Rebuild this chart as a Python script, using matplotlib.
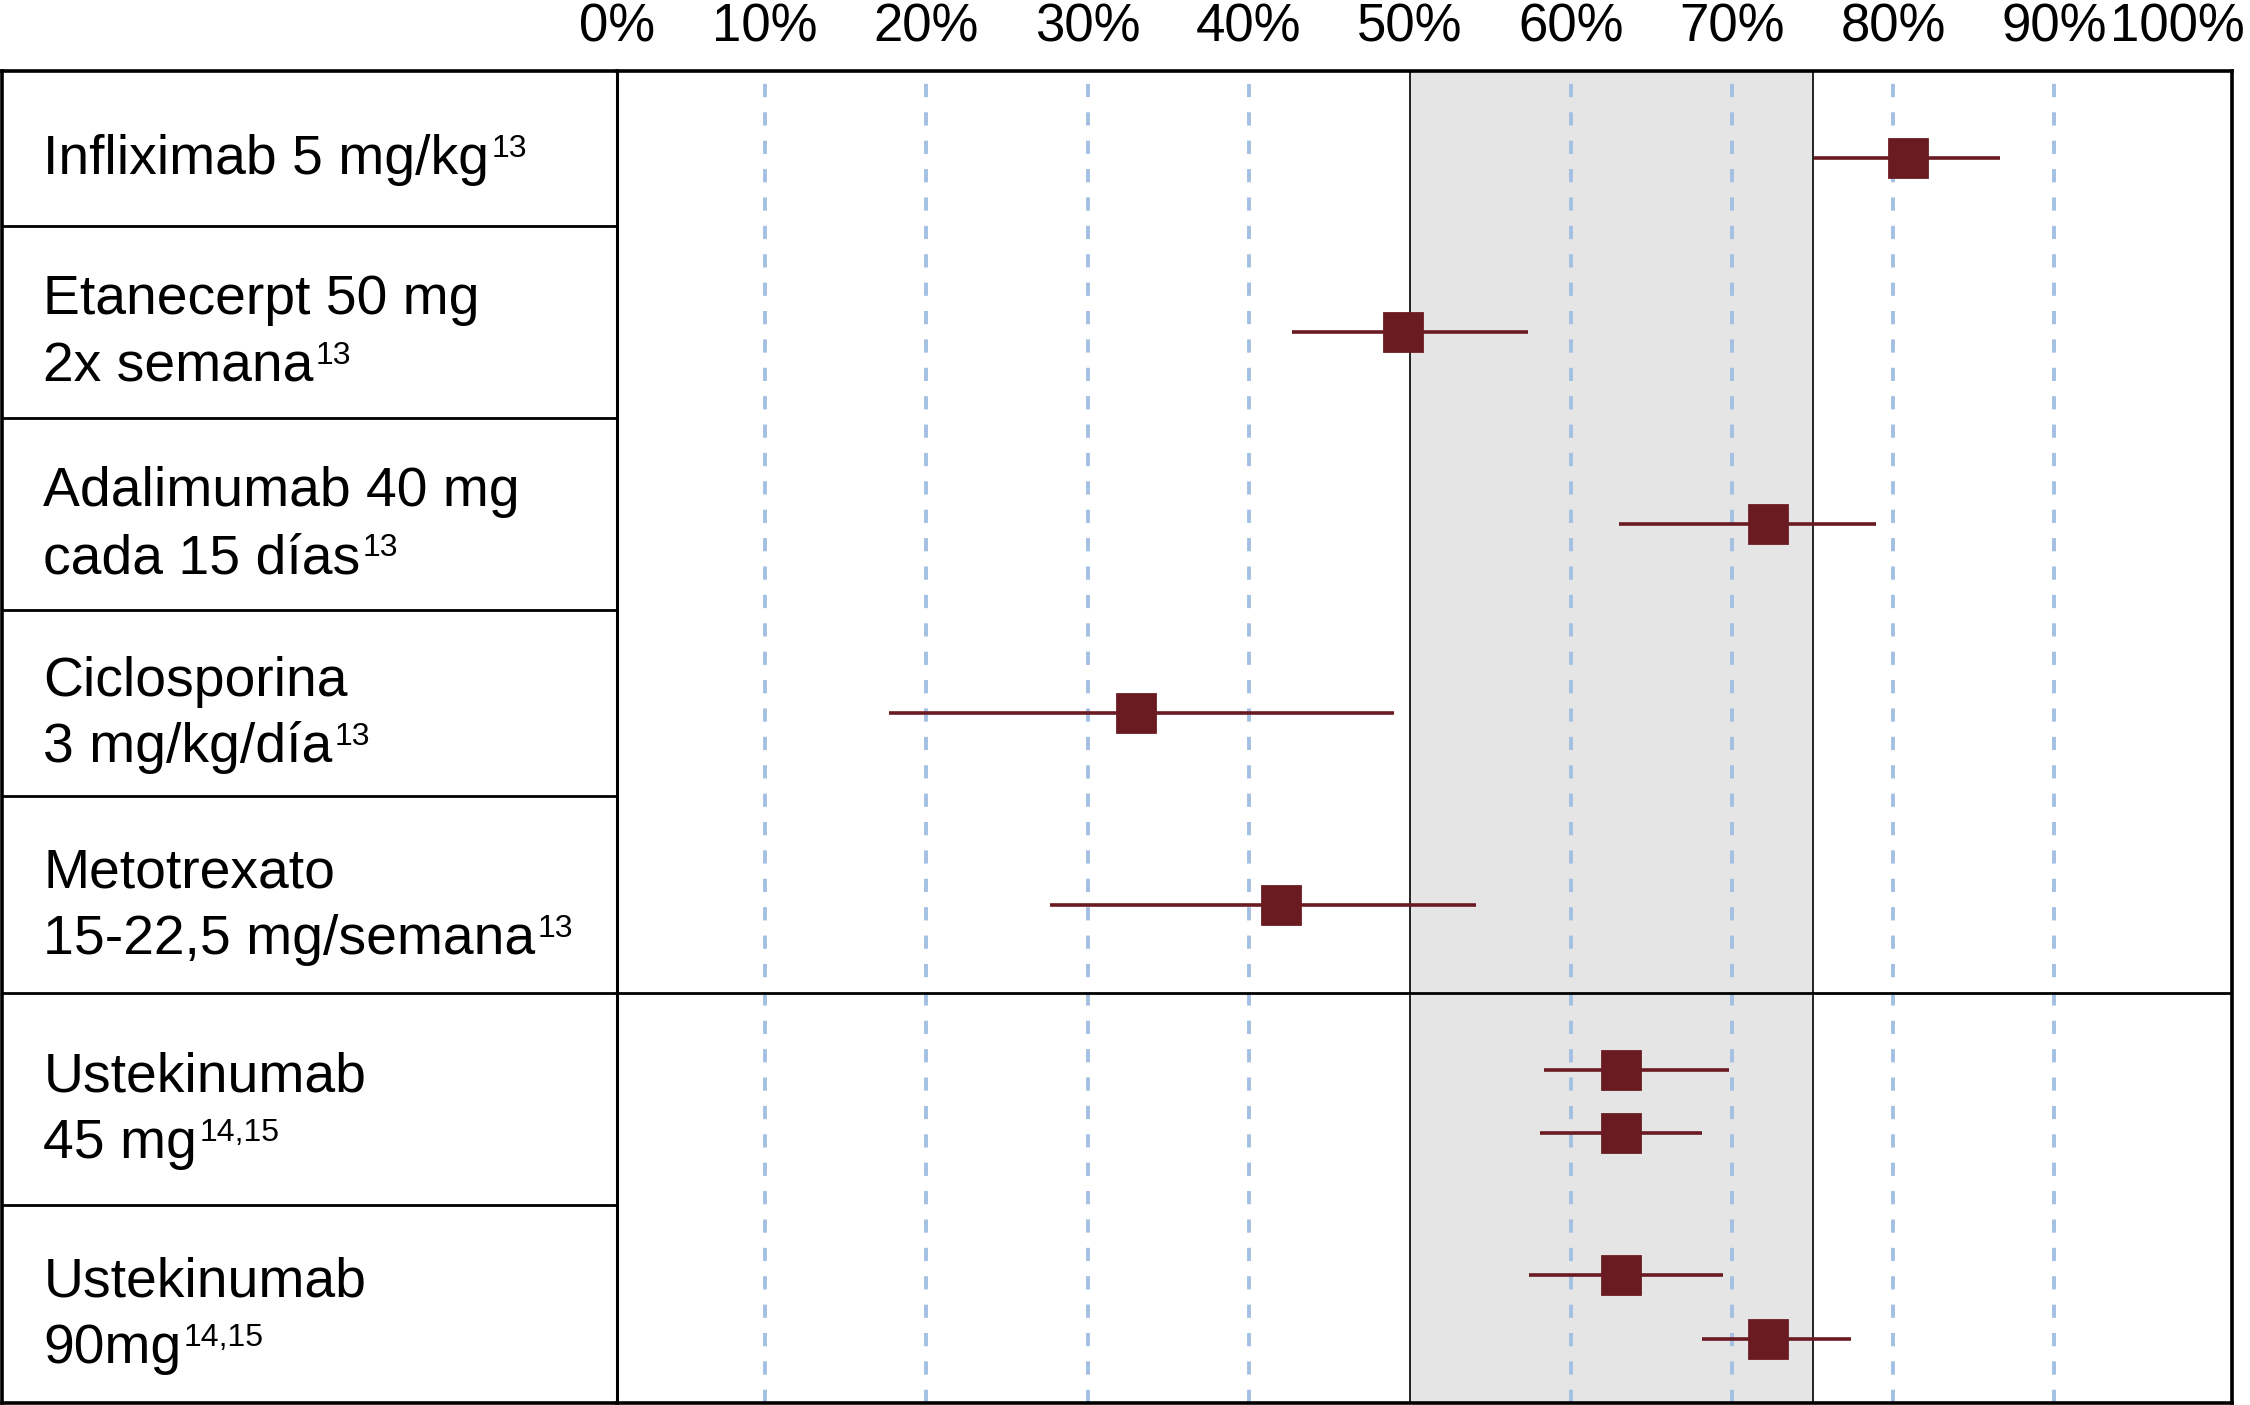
import numpy as np
import matplotlib
matplotlib.use("Agg")
from matplotlib import pyplot as plt

plt.rcParams['font.family'] = ['Liberation Sans', 'DejaVu Sans']

# ---- data ----
rows = [["Infliximab 5 mg/kg"],
        ["Etanecerpt 50 mg", "2x semana"],
        ["Adalimumab 40 mg", "cada 15 días"],
        ["Ciclosporina", "3 mg/kg/día"],
        ["Metotrexato", "15-22,5 mg/semana"],
        ["Ustekinumab", "45 mg"],
        ["Ustekinumab", "90mg"]]
refs = ["13", "13", "13", "13", "13", "14,15", "14,15"]

point_row = [0, 1, 2, 3, 4, 5, 5, 6, 6]
pasi75 = np.array([80.9, 49.6, 72.2, 33.0, 42.0, 63.1, 63.1, 63.1, 72.2])
ci_low = np.array([75.1, 42.7, 63.0, 17.7, 27.7, 58.3, 58.1, 57.4, 68.1])
ci_high = np.array([86.6, 57.3, 78.9, 49.0, 54.1, 69.8, 68.1, 69.4, 77.4])

tick_vals = [0, 10, 20, 30, 40, 50, 60, 70, 80, 90, 100]
grid_vals = [10, 20, 30, 40, 60, 70, 80, 90]
band = (50, 75)

# ---- layout ----
row_h = [108, 134, 134, 130, 137, 148, 138]
edges = np.concatenate([[0], np.cumsum(row_h)])
centers = (edges[:-1] + edges[1:]) / 2
single_off = 7
pair_off = [-20, 24]
x_lo, x_hi = 0.8, 101.0
cap, ls = 28, 46.5

red = '#6A1A21'

# y of each point
py = []
for i, r in enumerate(point_row):
    same = [j for j, rr in enumerate(point_row) if rr == r]
    if len(same) == 1:
        py.append(centers[r] + single_off)
    else:
        py.append(centers[r] + pair_off[same.index(i)])
py = np.array(py)

fig = plt.figure(figsize=(11.25, 7.025), dpi=200)
top, bottom = 0.9495, 0.0014
h = top - bottom
xl0, xdiv, xr = 0.001, 0.2742, 0.9919
ax_l = fig.add_axes([xl0, bottom, xdiv - xl0, h])
ax = fig.add_axes([xdiv, bottom, xr - xdiv, h])
ax.set_facecolor('none')

# left label table
ax_l.set_xlim(0, 1)
ax_l.set_ylim(edges[-1], 0)
ax_l.set_xticks([])
ax_l.set_yticks([])
for s in ax_l.spines.values():
    s.set_linewidth(1.3)
ax_l.spines['right'].set_linewidth(1.1)
ax_l.spines['right'].set_zorder(5)
ax_l.hlines(edges[1:-1], 0, 1, color='black', lw=1.0)

for k, lines in enumerate(rows):
    n = len(lines)
    last = centers[k] + 4 + (cap + (n - 1) * ls) / 2
    for j, line in enumerate(lines):
        yb = last - (n - 1 - j) * ls
        t = ax_l.text(0.067, yb, line, fontsize=19.9, va='baseline', ha='left')
    ax_l.annotate(refs[k], xy=(1, yb), xycoords=(t, 'data'), xytext=(0.8, 6.2),
                  textcoords='offset points', fontsize=11.5, va='baseline', ha='left')

# right chart
ax.set_xlim(x_lo, x_hi)
ax.set_ylim(edges[-1], 0)
ax.axvspan(band[0], band[1], color='#E5E5E5', lw=0, zorder=0)
for v in band:
    ax.axvline(v, color='#222222', lw=0.7, zorder=1)
for v in grid_vals:
    ax.axvline(v, color='#A3C0E2', lw=1.4, dashes=(3.4, 3.9), zorder=2)
ax.axhline(edges[5], color='black', lw=1.0, zorder=2)

ax.errorbar(pasi75, py, xerr=[pasi75 - ci_low, ci_high - pasi75], fmt='s',
            color=red, mec=red, ms=13.9, elinewidth=1.3, capsize=0, zorder=3)

tick_pos = [x_lo] + grid_vals[:4] + [50] + grid_vals[4:] + [97.6]
ax.xaxis.tick_top()
ax.set_xticks(tick_pos)
ax.set_xticklabels([f"{v}%" for v in tick_vals])
ax.tick_params(axis='x', length=0, pad=6.7, labelsize=19)
ax.set_yticks([])
for s in ax.spines.values():
    s.set_linewidth(1.3)
ax.spines['left'].set_visible(False)

fig.savefig('out.png', dpi=200)
